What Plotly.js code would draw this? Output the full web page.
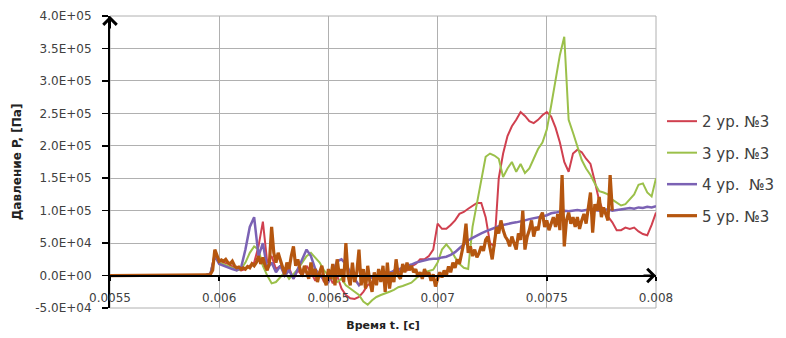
<!DOCTYPE html>
<html><head><meta charset="utf-8">
<script src="https://cdn.plot.ly/plotly-3.0.1.min.js"></script>
<style>body{margin:0;background:#fff}#chart{width:786px;height:338px}</style>
</head><body><div id="chart"></div>
<script>
// Series names (legend)
const seriesNames = ['2 ур. №3', '3 ур. №3', '4 ур.\u00a0 №3', '5 ур. №3'];
// Time axis: start time and sampling steps (seconds)
const tStart = 0.0055;
const stepCoarse = 0.00002;
const stepFine = 0.00001;
// Pressure values, Pa
const p2 = [0,0,0,0,0,0,0,0,0,0,0,0,0,0,0,0,0,0,0,0,0,0,
  1000,3000,35000,22000,20000,18000,14000,10000,8000,10000,15000,20000,45000,83000,20000,30000,10000,15000,5000,12000,
  -5000,8000,0,15000,5000,-8000,6000,-10000,3000,-12000,0,-20000,-30000,-35000,-36000,-33000,-25000,-15000,-10000,-5000,
  0,5000,2000,8000,5000,10000,8000,14000,18000,25000,25000,30000,40000,80000,72000,72000,78000,85000,95000,98000,
  103000,108000,112000,112000,90000,50000,45000,150000,188000,215000,230000,240000,252000,246000,238000,235000,240000,247000,
  252000,245000,228000,205000,175000,160000,188000,194000,190000,180000,172000,145000,115000,98000,91000,82000,70000,70000,
  74000,72000,74000,68000,64000,62000,78000,97000];
const p3 = [0,0,0,0,0,0,0,0,0,0,0,0,0,0,0,0,0,0,0,0,0,0,
  1000,3000,30000,20000,18000,15000,12000,8000,10000,20000,35000,45000,40000,15000,0,-12000,-10000,-3000,5000,-5000,
  2000,10000,20000,30000,35000,28000,20000,8000,0,-5000,-10000,-5000,-15000,-20000,-25000,-30000,-40000,-45000,-38000,-33000,
  -30000,-28000,-25000,-22000,-18000,-16000,-14000,-11000,-5000,2000,5000,7000,9000,20000,40000,48000,40000,28000,18000,12000,
  10000,75000,112000,152000,183000,188000,185000,180000,152000,165000,175000,160000,172000,158000,165000,180000,195000,205000,
  225000,262000,300000,340000,368000,240000,220000,198000,178000,165000,155000,142000,130000,128000,125000,117000,112000,108000,
  110000,118000,125000,140000,142000,128000,122000,150000];
const p4 = [0,0,0,0,0,0,0,0,0,0,0,0,0,0,0,0,0,0,0,0,0,0,
  1000,3000,30000,18000,15000,12000,10000,8000,12000,40000,75000,90000,30000,50000,10000,20000,5000,15000,0,8000,
  -5000,10000,25000,40000,30000,10000,0,-5000,-10000,5000,22000,25000,18000,5000,-5000,-15000,-8000,-5000,-3000,0,
  0,2000,5000,6000,9000,12000,14000,17000,20000,22000,23000,25000,26000,26000,28000,29000,32000,36000,42000,48000,
  54000,58000,62000,65000,68000,71000,73000,76000,78000,80000,81000,82000,83000,85000,87000,88000,89000,91000,
  93000,96000,97000,98000,100000,99000,100000,101000,100000,101000,102000,101000,100000,101000,102000,100000,101000,102000,
  103000,104000,103000,105000,104000,106000,105000,107000];
const p5 = [0,0,0,0,0,0,0,0,0,0,0,0,0,0,0,0,0,0,0,0,0,0,0,0,0,0,0,0,0,0,0,0,0,0,0,0,0,0,0,0,0,0,0,0,0,
  1000,2000,8000,40000,30000,22000,24000,22000,25000,20000,18000,22000,15000,12000,13000,10000,12000,10000,14000,12000,
  18000,15000,20000,30000,18000,28000,15000,8000,20000,75000,35000,20000,35000,25000,12000,2000,20000,10000,30000,45000,
  15000,25000,10000,0,15000,5000,-5000,20000,0,10000,-10000,5000,15000,-5000,-15000,10000,-5000,18000,-15000,25000,
  0,10000,-10000,50000,0,-15000,20000,-10000,5000,40000,-15000,10000,-20000,15000,-10000,-25000,5000,-15000,10000,-10000,
  15000,-25000,20000,-20000,5000,-10000,25000,0,-5000,18000,5000,20000,8000,15000,5000,10000,-2000,5000,-5000,10000,
  0,5000,-8000,2000,-17000,-5000,5000,-3000,8000,0,14000,5000,20000,12000,25000,18000,35000,50000,80000,35000,
  45000,30000,40000,28000,35000,45000,38000,55000,60000,40000,25000,50000,75000,65000,85000,70000,60000,55000,45000,60000,
  50000,40000,65000,55000,100000,40000,60000,70000,85000,60000,75000,70000,90000,97000,75000,85000,70000,80000,90000,75000,
  95000,70000,155000,45000,85000,97000,80000,90000,75000,90000,72000,85000,95000,80000,106000,128000,66000,110000,100000,121000,
  90000,105000,95000,85000,155000,100000];
// Axis ticks
const xTickVals = [0.0055, 0.006, 0.0065, 0.007, 0.0075, 0.008];
const xTickText = ['0.0055', '0.006', '0.0065', '0.007', '0.0075', '0.008'];
const yTickVals = [-50000, 0, 50000, 100000, 150000, 200000, 250000, 300000, 350000, 400000];
const yTickText = ['-5.0E+04', '0.0E+00', '5.0E+04', '1.0E+05', '1.5E+05', '2.0E+05', '2.5E+05', '3.0E+05', '3.5E+05', '4.0E+05'];

const colors = ['#D0404F', '#9BC04A', '#7B62B4', '#B5560F'];
const widths = [2, 2, 2.5, 3.2];
const values = [p2, p3, p4, p5];
const steps = [stepCoarse, stepCoarse, stepCoarse, stepFine];

const traces = values.map((v, k) => ({
  type: 'scatter', mode: 'lines', name: seriesNames[k], y: v, x0: tStart, dx: steps[k],
  line: {color: colors[k], width: widths[k]}, legendgroup: 'g' + k, hoverinfo: 'skip'
}));

const yMin = -50000, yMax = 400000;
const layout = {
  width: 786, height: 338,
  margin: {l: 110, r: 130, t: 16, b: 30, pad: 0, autoexpand: false},
  paper_bgcolor: '#fff', plot_bgcolor: '#fff',
  font: {family: 'DejaVu Sans, sans-serif', size: 12, color: '#404040'},
  showlegend: true,
  legend: {x: 1.011, xanchor: 'left', y: 0.478, yanchor: 'middle', font: {size: 15, color: '#404040'},
    tracegroupgap: 9, bgcolor: 'rgba(0,0,0,0)', itemwidth: 30},
  xaxis: {range: [0.0055, 0.008], tickmode: 'array', tickvals: xTickVals, ticktext: xTickText,
    anchor: 'free', position: (0 - yMin) / (yMax - yMin),
    showline: true, linecolor: '#000', linewidth: 2, ticks: 'outside', ticklen: 4, tickcolor: '#000', tickwidth: 1.5,
    ticklabelstandoff: 7,
    showgrid: true, gridcolor: '#b0b0b0', gridwidth: 1, zeroline: false,
    title: {text: 'Время t. [c]', font: {size: 11, weight: 'bold', color: '#222'}, standoff: 16}},
  yaxis: {range: [yMin, yMax], tickmode: 'array', tickvals: yTickVals, ticktext: yTickText,
    showline: true, linecolor: '#000', linewidth: 2, ticks: 'outside', ticklen: 6, tickcolor: '#000', tickwidth: 1.5,
    ticklabelstandoff: 8,
    showgrid: true, gridcolor: '#b0b0b0', gridwidth: 1, zeroline: false,
    title: {text: 'Давление P, [Па]', font: {size: 12, weight: 'bold', color: '#222'}, standoff: 11}},
  shapes: [{type: 'rect', xref: 'paper', yref: 'paper', x0: 0, x1: 1, y0: 0, y1: 1,
    line: {color: '#b0b0b0', width: 1}, layer: 'below'}],
  annotations: [
    {xref: 'x', yref: 'y', x: 0.0055, y: yMax, ax: 0, ay: 14, showarrow: true, arrowhead: 4, arrowsize: 1.3,
      arrowwidth: 2, arrowcolor: '#000', text: ''},
    {xref: 'x', yref: 'y', x: 0.008, y: 0, ax: -14, ay: 0, showarrow: true, arrowhead: 4, arrowsize: 1.3,
      arrowwidth: 2, arrowcolor: '#000', text: ''}
  ]
};
Plotly.newPlot('chart', traces, layout, {displayModeBar: false, staticPlot: true});
</script>
</body></html>
